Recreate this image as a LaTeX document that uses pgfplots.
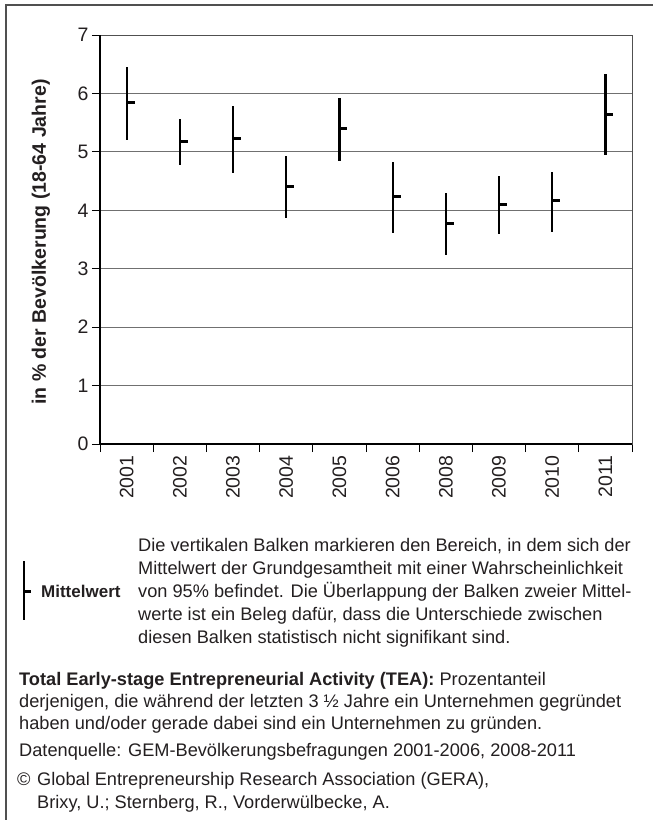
\documentclass[border=0pt]{standalone}
\usepackage{fontspec}
\setmainfont{Liberation Sans}
\usepackage{pgfplots}
\pgfplotsset{compat=1.18}

\pgfdeclareplotmark{meantick}{%
  \pgfsetlinewidth{3pt}\pgfsetbuttcap
  \pgfpathmoveto{\pgfpoint{0pt}{0pt}}%
  \pgfpathlineto{\pgfpoint{8pt}{0pt}}%
  \pgfusepathqstroke}

\definecolor{txt}{HTML}{231F20}
\definecolor{gridc}{HTML}{707070}
\definecolor{framec}{HTML}{505050}
\newcommand\bodyfont{\fontsize{18.2}{23}\selectfont}

\begin{document}
\begin{tikzpicture}[x=1pt,y=1pt]
\path[use as bounding box] (0,0) rectangle (653,-820);
\draw[framec, line width=1.8pt] (6,-820) -- (6,-5) -- (653,-5);
\begin{axis}[
  at={(100pt,-444pt)}, anchor=south west,
  scale only axis, width=532pt, height=409pt,
  xmin=-0.5, xmax=9.5, ymin=0, ymax=7,
  xtick={-0.5,0.5,...,9.5},
  x tick label as interval,
  xticklabels={2001,2002,2003,2004,2005,2006,2008,2009,2010,2011},
  ytick={0,...,7},
  tick pos=left,
  tick align=outside, major tick length=8pt,
  tick style={black, line width=1pt},
  ymajorgrids, grid style={gridc, line width=1pt},
  axis line style={framec, line width=1pt},
  x tick label style={rotate=90, anchor=east, font=\fontsize{19.5}{20}\selectfont, text=txt},
  y tick label style={font=\fontsize{19.5}{20}\selectfont, text=txt},
  /pgf/number format/assume math mode=true,
  clip=false,
]
\draw[black, line width=2pt] (rel axis cs:0,1) -- (rel axis cs:0,0) -- (rel axis cs:1,0);
\addplot[only marks, mark=meantick, black,
  error bars/.cd, y dir=both, y explicit, error mark=none,
  error bar style={line width=2.2pt, black}]
  table[x=x, y=y, y error plus=ep, y error minus=em] {
x y ep em
0 5.84 0.62 0.64
1 5.17 0.39 0.40
2 5.23 0.56 0.59
3 4.40 0.53 0.53
4 5.40 0.53 0.55
5 4.23 0.59 0.62
6 3.77 0.53 0.54
7 4.10 0.48 0.51
8 4.16 0.50 0.53
9 5.64 0.69 0.69
};
\end{axis}
\node[rotate=90, font=\bfseries\fontsize{19.5}{20}\selectfont, text=txt] at (41,-242) {in \% der Bevölkerung (18-64 Jahre)};
% legend
\draw[black, line width=2pt] (24,-561) -- (24,-620);
\draw[black, line width=3pt] (24,-591) -- (31,-591);
\begin{scope}[every node/.style={anchor=base west, inner sep=0pt, font=\bodyfont, text=txt}]
\node[font=\fontsize{17}{20}\selectfont\bfseries] at (41,-597) {Mittelwert};
\node at (138,-551) {Die vertikalen Balken markieren den Bereich, in dem sich der};
\node at (138,-574) {Mittelwert der Grundgesamtheit mit einer Wahrscheinlichkeit};
\node at (138,-597) {von 95\% befindet. Die Überlappung der Balken zweier Mittel-};
\node at (138,-620) {werte ist ein Beleg dafür, dass die Unterschiede zwischen};
\node at (138,-643) {diesen Balken statistisch nicht signifikant sind.};
\node at (19,-685) {\textbf{Total Early-stage Entrepreneurial Activity (TEA):} Prozentanteil};
\node at (19,-707) {derjenigen, die während der letzten 3 ½ Jahre ein Unternehmen gegründet};
\node at (19,-729) {haben und/oder gerade dabei sind ein Unternehmen zu gründen.};
\node at (19,-756) {Datenquelle: GEM-Bevölkerungsbefragungen 2001-2006, 2008-2011};
\node at (17,-785) {©};
\node at (37,-785) {Global Entrepreneurship Research Association (GERA),};
\node at (37,-808) {Brixy, U.; Sternberg, R., Vorderwülbecke, A.};
\end{scope}
\end{tikzpicture}
\end{document}
